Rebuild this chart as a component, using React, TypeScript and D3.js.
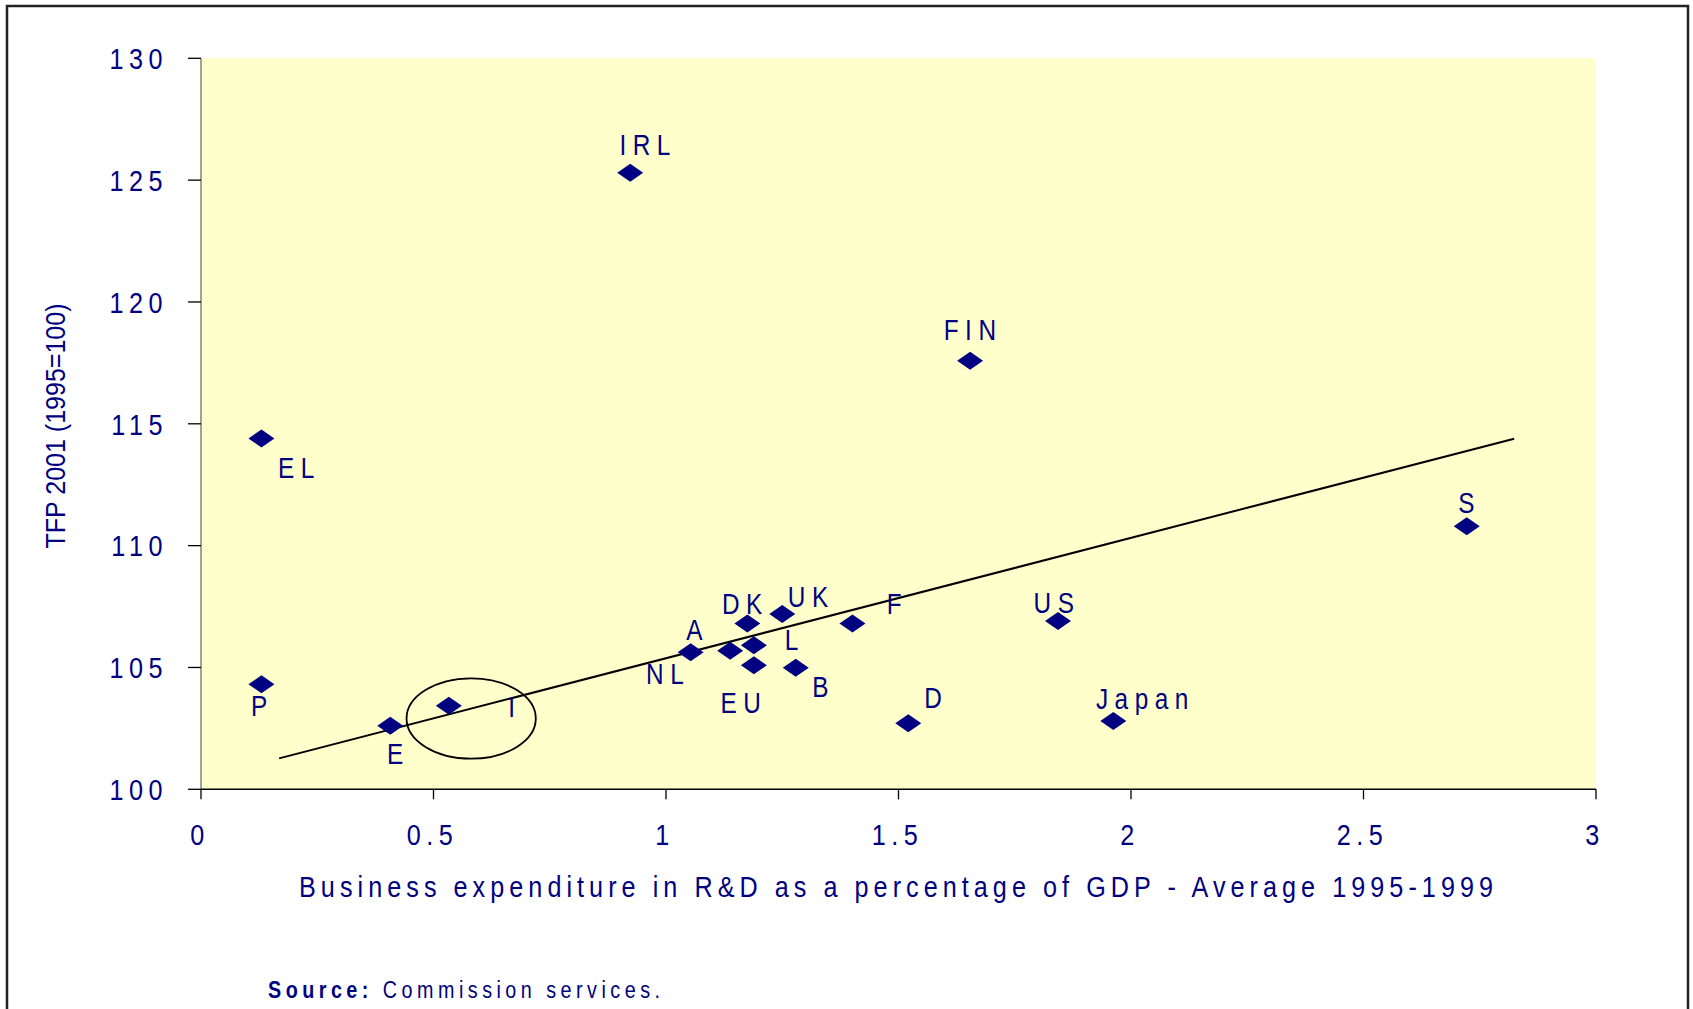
import React from 'react';
import * as d3 from 'd3';

// Business R&D (% of GDP, avg 1995-1999) vs TFP 2001 (1995=100)
const countries = ['IRL', 'FIN', 'EL', 'P', 'E', 'I', 'A', 'NL', 'DK', 'L', 'EU', 'UK', 'B', 'F', 'D', 'US', 'Japan', 'S'];
const berd = [0.923, 1.654, 0.13, 0.13, 0.407, 0.533, 1.053, 1.138, 1.175, 1.189, 1.189, 1.25, 1.279, 1.401, 1.521, 1.843, 1.962, 2.722];
const tfp = [125.3, 117.59, 114.4, 104.31, 102.61, 103.43, 105.62, 105.69, 106.8, 105.91, 105.09, 107.19, 104.99, 106.8, 102.71, 106.91, 102.8, 110.8];

// where each label sits relative to its marker (px: to label centre / baseline)
const labelDx = [15, 0, 35, -2, 5, 63, 4, -65, -5, 38, -13, 26, 25, 42, 25, -4, 29, 0];
const labelDy = [-18, -21, 40, 32, 38, 11, -12, 33, -10, 5, 48, -7, 29, -10, -15, -8, -12, -13];

const xTicks = [0, 0.5, 1, 1.5, 2, 2.5, 3];
const yTicks = [100, 105, 110, 115, 120, 125, 130];

// trend line end points as drawn
const trendX = [0.168, 2.824];
const trendY = [101.27, 114.39];

// circled country (I)
const ringX = 0.581;
const ringY = 102.905;
const ringRx = 0.139;
const ringRy = 1.65;

const xTitle = 'Business expenditure in R&D as a percentage of GDP - Average 1995-1999';
const yTitle = 'TFP 2001 (1995=100)';

const navy = '#000080';
const font = '"Liberation Sans", Arial, sans-serif';
const squeeze = 0.84; // the original lettering is narrow

// horizontally condensed text, anchored at (x, y)
function Narrow({ x, y, anchor = 'start', size, spacing = 0, children, ...rest }: any) {
  return (
    <text transform={`translate(${x},${y}) scale(${squeeze},1)`} textAnchor={anchor} fontFamily={font}
      fontSize={size} letterSpacing={spacing / squeeze} fill={navy} {...rest}>{children}</text>
  );
}

export default function App() {
  const W = 1693;
  const H = 1009;
  const left = 201, right = 1596, top = 58.3, bottom = 789.3;

  const x = d3.scaleLinear().domain([0, 3]).range([left, right]);
  const y = d3.scaleLinear().domain([100, 130]).range([bottom, top]);

  const trend = d3.line<number>()
    .x((d, i) => x(trendX[i]))
    .y((d, i) => y(trendY[i]))(trendX);

  const diamond = (cx: number, cy: number) => {
    const p = d3.path();
    p.moveTo(cx - 13, cy);
    p.lineTo(cx, cy - 9);
    p.lineTo(cx + 13, cy);
    p.lineTo(cx, cy + 9);
    p.closePath();
    return p.toString();
  };

  return (
    <div style={{ position: 'absolute', left: 0, top: 0 }}>
      <svg width={W} height={H} style={{ display: 'block', background: '#fff' }}>
        <rect x={7} y={6} width={1681} height={1020} fill="none" stroke="#222" strokeWidth={2.5} />

        <rect x={left} y={top} width={right - left} height={bottom - top} fill="#ffffcc" />

        {/* y axis */}
        <line x1={left} x2={left} y1={top} y2={bottom} stroke="#808080" strokeWidth={1.5} />
        {yTicks.map(t => (
          <g key={'y' + t}>
            <line x1={left - 13} x2={left} y1={y(t)} y2={y(t)} stroke="#000" strokeWidth={1.3} />
            <Narrow x={168} y={y(t) + 10.8} anchor="end" size={30} spacing={5.5}>{t}</Narrow>
          </g>
        ))}

        {/* x axis */}
        <line x1={left} x2={right} y1={bottom} y2={bottom} stroke="#000" strokeWidth={1.5} />
        {xTicks.map(t => (
          <g key={'x' + t}>
            <line x1={x(t)} x2={x(t)} y1={bottom} y2={bottom + 10} stroke="#000" strokeWidth={1.3} />
            <Narrow x={x(t) - 1} y={bottom + 56} anchor="middle" size={30} spacing={5.5}>{t}</Narrow>
          </g>
        ))}

        {/* trend + ring */}
        <path d={trend || ''} fill="none" stroke="#000" strokeWidth={2} />
        <ellipse cx={x(ringX)} cy={y(ringY)} rx={x(ringX + ringRx) - x(ringX)} ry={y(ringY) - y(ringY + ringRy)}
          fill="none" stroke="#000" strokeWidth={1.8} />

        {/* markers */}
        {countries.map((c, i) => (
          <path key={'m' + c} d={diamond(x(berd[i]), y(tfp[i]))} fill={navy} />
        ))}
        {countries.map((c, i) => (
          <Narrow key={'l' + c} x={x(berd[i]) + labelDx[i] + 3} y={y(tfp[i]) + labelDy[i]} anchor="middle"
            size={29} spacing={6.5}>{c}</Narrow>
        ))}

        {/* titles */}
        <Narrow x={(299 + 1493) / 2} y={897} anchor="middle" size={30}
          textLength={1194 / squeeze} lengthAdjust="spacing">{xTitle}</Narrow>
        <text transform="translate(65,426) rotate(-90)" textAnchor="middle" fontFamily={font} fontSize={28}
          textLength={245} lengthAdjust="spacingAndGlyphs" fill={navy}>{yTitle}</text>

        <Narrow x={268} y={997.5} size={23.5} textLength={392 / squeeze} lengthAdjust="spacing">
          <tspan fontWeight="bold">Source:</tspan>
          <tspan> Commission services.</tspan>
        </Narrow>
      </svg>
    </div>
  );
}
